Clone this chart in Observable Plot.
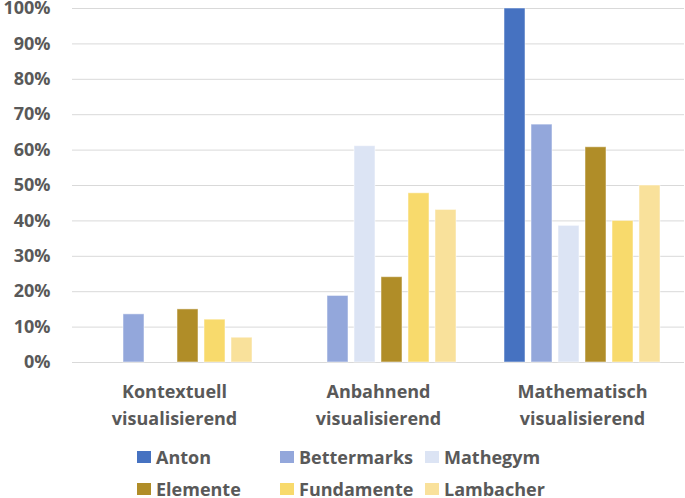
<!DOCTYPE html>
<html>
<head>
<meta charset="utf-8">
<script src="https://cdn.jsdelivr.net/npm/d3@7"></script>
<script src="https://cdn.jsdelivr.net/npm/@observablehq/plot@0.6"></script>
<style>
  html, body { margin: 0; padding: 0; background: #fff; }
  #chart { width: 685px; }
  #chart svg { display: block; }
  .legend { position: relative; width: 685px; height: 58px; font-family: "Open Sans", sans-serif; font-weight: 700; font-size: 18px; line-height: 16px; color: #595959; }
  .legend .item { position: absolute; display: flex; align-items: center; white-space: nowrap; height: 16px; }
  .legend .sw { width: 14px; height: 12px; margin-right: 5px; display: inline-block; }
</style>
</head>
<body>
<div id="chart"></div>
<script>
const categories = ["Kontextuell\nvisualisierend", "Anbahnend\nvisualisierend", "Mathematisch\nvisualisierend"];
const publishers = ["Anton", "Bettermarks", "Mathegym", "Elemente", "Fundamente", "Lambacher"];
const colors = ["#4672C1", "#93A7DB", "#DCE4F4", "#B08D28", "#F8DA6C", "#F9E19B"];
const anton       = [0.00, 0.00, 1.00];
const bettermarks = [0.136, 0.188, 0.672];
const mathegym    = [0.00, 0.611, 0.386];
const elemente    = [0.150, 0.241, 0.608];
const fundamente  = [0.121, 0.478, 0.40];
const lambacher   = [0.070, 0.431, 0.50];
const yTicks = [0, 0.1, 0.2, 0.3, 0.4, 0.5, 0.6, 0.7, 0.8, 0.9, 1.0];

const series = [anton, bettermarks, mathegym, elemente, fundamente, lambacher];
const data = [];
categories.forEach((c, ci) => {
  publishers.forEach((p, pi) => {
    data.push({cat: c, pub: p, value: series[pi][ci]});
  });
});

const chart = Plot.plot({
  width: 685,
  height: 440,
  marginTop: 8,
  marginLeft: 71,
  marginRight: 0,
  marginBottom: 78,
  style: {fontFamily: "'Open Sans', sans-serif", fontSize: "18px", fontWeight: "700", color: "#595959", background: "#fff"},
  fx: {domain: categories, padding: 0, label: null},
  x: {domain: publishers, paddingInner: 0.21, paddingOuter: 0.84, axis: null},
  y: {domain: [0, 1], label: null},
  color: {domain: publishers, range: colors},
  marks: [
    Plot.gridY(yTicks, {stroke: "#D9D9D9", strokeOpacity: 1, strokeWidth: 1}),
    Plot.barY(data.filter(d => d.value > 0), {fx: "cat", x: "pub", y: "value", fill: "pub", stroke: "white", strokeOpacity: 0.5, strokeWidth: 1}),
    Plot.axisY(yTicks, {tickFormat: d3.format(".0%"), tickSize: 0, tickPadding: 22, label: null, fill: "#595959"}),
    Plot.axisFx({anchor: "bottom", tickSize: 0, tickPadding: 16, label: null, lineHeight: 1.5, fill: "#595959"})
  ]
});
document.getElementById("chart").appendChild(chart);

// legend
const legend = document.createElement("div");
legend.className = "legend";
const colX = [137, 280, 425];
const rowY = [9, 41];
publishers.forEach((p, i) => {
  const item = document.createElement("div");
  item.className = "item";
  item.style.left = colX[i % 3] + "px";
  item.style.top = rowY[Math.floor(i / 3)] + "px";
  const sw = document.createElement("span");
  sw.className = "sw";
  sw.style.background = colors[i];
  const t = document.createElement("span");
  t.textContent = p;
  item.appendChild(sw);
  item.appendChild(t);
  legend.appendChild(item);
});
document.body.appendChild(legend);
</script>
</body>
</html>
